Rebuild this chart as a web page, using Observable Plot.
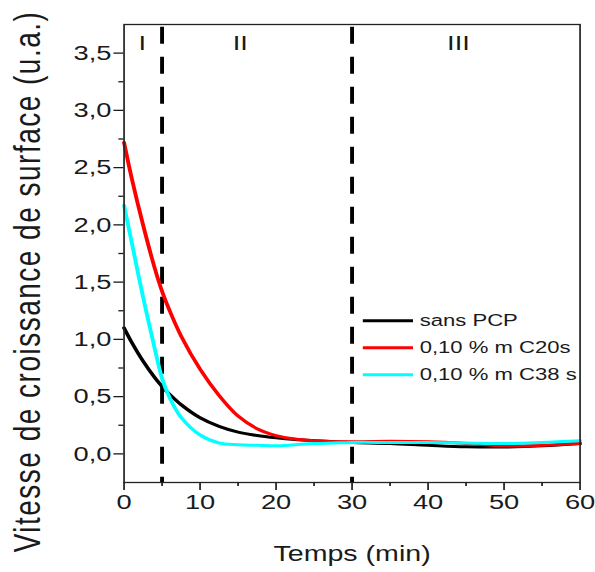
<!DOCTYPE html>
<html>
<head>
<meta charset="utf-8">
<script src="https://cdn.jsdelivr.net/npm/d3@7"></script>
<script src="https://cdn.jsdelivr.net/npm/@observablehq/plot@0.6"></script>
<style>
  html, body { margin: 0; padding: 0; background: #fff; overflow: hidden; }
  .ytitle text { letter-spacing: 1.5px; }
</style>
</head>
<body>
<div id="chart"></div>
<script>
// ---- data ----
const time = [0, 1, 2.5, 4, 5, 6, 7.5, 10, 12.5, 15, 17.5, 20, 22.5, 25, 27.5, 30, 35, 40, 45, 50, 55, 60];
const sansPCP = [1.10, 0.975, 0.81, 0.67, 0.59, 0.52, 0.43, 0.315, 0.24, 0.19, 0.16, 0.14, 0.125, 0.115, 0.107, 0.10, 0.09, 0.075, 0.062, 0.06, 0.07, 0.09];
const c20s    = [2.72, 2.41, 2.00, 1.63, 1.42, 1.25, 1.03, 0.74, 0.51, 0.33, 0.22, 0.16, 0.13, 0.115, 0.107, 0.105, 0.11, 0.105, 0.09, 0.07, 0.075, 0.09];
const c38s    = [2.17, 1.85, 1.37, 0.93, 0.66, 0.49, 0.32, 0.165, 0.095, 0.08, 0.075, 0.07, 0.08, 0.09, 0.095, 0.10, 0.10, 0.10, 0.095, 0.09, 0.10, 0.115];
const seriesNames = ["sans PCP", "0,10 % m C20s", "0,10 % m C38 s"];
const seriesColors = ["#000000", "#ff0000", "#00ffff"];
const boundaries = [5, 30];
const regionNames = ["I", "II", "III"];
const regionX = [2.4, 15.3, 44];
const xMajor = [0, 10, 20, 30, 40, 50, 60];
const xMinor = [5, 15, 25, 35, 45, 55];
const yMajor = [0, 0.5, 1, 1.5, 2, 2.5, 3, 3.5];
const yMinor = [0.25, 0.75, 1.25, 1.75, 2.25, 2.75, 3.25];
const xTitle = "Temps (min)";
const yTitle = "Vitesse de croissance de surface (u.a.)";

// tidy table built from the arrays
const seriesValues = [sansPCP, c20s, c38s];
const rows = [];
seriesNames.forEach((name, s) => time.forEach((t, i) => rows.push({name, t, v: seriesValues[s][i]})));

// ---- layout (the reference is horizontally stretched) ----
const W = 458, H = 572, S = 595 / W;
const legendX1 = 31.5, legendX2 = 38.1, legendTextX = 38.9, legendTop = 1.162, legendStep = 0.235;
const font = "'Liberation Sans', Arial, Helvetica, sans-serif";
const fmtY = d => d.toFixed(1).replace(".", ",");

const svg = Plot.plot({
  width: W, height: H,
  marginLeft: 95, marginRight: 12, marginTop: 24, marginBottom: 90,
  x: {domain: [0, 60]},
  y: {domain: [-0.25, 3.75]},
  color: {domain: seriesNames, range: seriesColors},
  style: {fontFamily: font, fontSize: "21px", color: "#1a1a1a", background: "#fff", overflow: "visible"},
  marks: [
    Plot.axisX({ticks: xMajor, tickSize: 8, tickPadding: 4, tickFormat: d => String(d), label: null, fontSize: 21, strokeWidth: 1.3}),
    Plot.axisX({ticks: xMinor, tickSize: 4, tickFormat: () => "", label: null, strokeWidth: 1.3}),
    Plot.axisY({ticks: yMajor, tickSize: 7.7, tickPadding: 2, tickFormat: fmtY, label: null, fontSize: 21, strokeWidth: 1.3}),
    Plot.axisY({ticks: yMinor, tickSize: 3.9, tickFormat: () => "", label: null, strokeWidth: 1.3}),
    Plot.ruleX(boundaries, {stroke: "#000", strokeWidth: 3, strokeDasharray: "17,13", strokeDashoffset: 27.3}),
    Plot.line(rows, {x: "t", y: "v", z: "name", stroke: "name", strokeWidth: 3, curve: "catmull-rom"}),
    Plot.text(regionNames, {x: (d, i) => regionX[i], frameAnchor: "top", text: d => d, dy: 11, lineAnchor: "top", fontSize: 21, fill: "#1a1a1a"}),
    Plot.ruleY(seriesNames, {y: (d, i) => legendTop - i * legendStep, x1: legendX1, x2: legendX2, stroke: d => d, strokeWidth: 3}),
    Plot.text(seriesNames, {x: legendTextX, y: (d, i) => legendTop - i * legendStep, text: d => d, textAnchor: "start", lineAnchor: "middle", fontSize: 17, fill: "#1a1a1a"}),
    Plot.text([xTitle], {frameAnchor: "bottom", text: d => d, dy: 71, lineAnchor: "middle", fontSize: 22, fill: "#1a1a1a"}),
    Plot.text([yTitle], {frameAnchor: "left", text: d => d, rotate: -90, dx: -73.5, dy: 28, textAnchor: "middle", lineAnchor: "middle", fontSize: 28, fill: "#1a1a1a", className: "ytitle"}),
    Plot.frame({stroke: "#222", strokeWidth: 1.3})
  ]
});
svg.style.transform = `scale(${S},1)`;
svg.style.transformOrigin = "0 0";
svg.style.display = "block";
document.getElementById("chart").append(svg);
</script>
</body>
</html>
